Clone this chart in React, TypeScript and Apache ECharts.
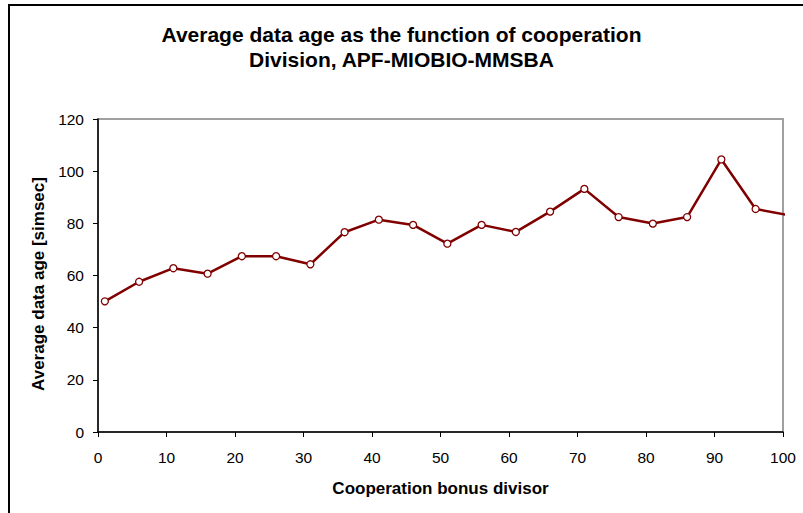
import React, { useEffect, useRef } from "react";
import * as echarts from "echarts";

// Cooperation bonus divisor values (x) and the measured average data age (y)
const divisors = [1, 6, 11, 16, 21, 26, 31, 36, 41, 46, 51, 56, 61, 66, 71, 76, 81, 86, 91, 96, 101];
const dataAge = [50.1, 57.6, 62.8, 60.7, 67.4, 67.4, 64.3, 76.6, 81.4, 79.4, 72.2, 79.4, 76.7, 84.5, 93.2, 82.4, 79.9, 82.4, 104.5, 85.5, 83.0];

const titleLines = ["Average data age as the function of cooperation", "Division, APF-MIOBIO-MMSBA"];
const xTitle = "Cooperation bonus divisor";
const yTitle = "Average data age [simsec]";

const FONT = "'Liberation Sans', Arial, sans-serif";

export default function App() {
  const ref = useRef<HTMLDivElement>(null);

  useEffect(() => {
    if (!ref.current) return;
    const chart = echarts.init(ref.current, undefined, { renderer: "svg" });
    const points = divisors.map((d, i) => [d, dataAge[i]]);
    chart.setOption({
      animation: false,
      backgroundColor: "#ffffff",
      title: {
        text: titleLines.join("\n"),
        left: "center",
        top: 17,
        textStyle: {
          fontFamily: FONT,
          fontSize: 21,
          fontWeight: "bold",
          color: "#000",
          lineHeight: 25,
        },
      },
      graphic: [
        {
          type: "rect",
          shape: { x: 9, y: 5, width: 820, height: 540 },
          style: { fill: "none", stroke: "#000", lineWidth: 2 },
          silent: true,
          z: -1,
        },
        {
          type: "text",
          x: 38,
          y: 284,
          rotation: Math.PI / 2,
          style: {
            text: yTitle,
            fontFamily: FONT,
            fontSize: 17,
            fontWeight: "bold",
            fill: "#000",
            align: "center",
            verticalAlign: "middle",
          },
          silent: true,
        },
      ],
      grid: {
        left: 98,
        right: 20,
        top: 119,
        bottom: 81,
        show: true,
        borderColor: "#a0a0a0",
        borderWidth: 2,
        backgroundColor: "transparent",
      },
      xAxis: {
        type: "value",
        min: 0,
        max: 100,
        interval: 10,
        name: xTitle,
        nameLocation: "middle",
        nameGap: 48,
        nameTextStyle: { fontFamily: FONT, fontSize: 17, fontWeight: "bold", color: "#000" },
        axisLine: { show: true, lineStyle: { color: "#000", width: 1.5 } },
        axisTick: { show: true, length: 5, lineStyle: { color: "#000" } },
        axisLabel: { fontFamily: FONT, fontSize: 15.5, color: "#000", margin: 17 },
        splitLine: { show: false },
      },
      yAxis: {
        type: "value",
        min: 0,
        max: 120,
        interval: 20,
        axisLine: { show: true, lineStyle: { color: "#000", width: 1.5 } },
        axisTick: { show: true, length: 5, lineStyle: { color: "#000" } },
        axisLabel: { fontFamily: FONT, fontSize: 15.5, color: "#000", margin: 14 },
        splitLine: { show: false },
      },
      series: [
        {
          type: "line",
          data: points,
          clip: true,
          lineStyle: { color: "#800000", width: 2.5 },
          itemStyle: { color: "#ffffff", borderColor: "#800000", borderWidth: 1.3 },
          symbol: "circle",
          symbolSize: 7,
          showSymbol: true,
        },
      ],
    });
    return () => chart.dispose();
  }, []);

  return (
    <div
      ref={ref}
      style={{ position: "fixed", left: 0, top: 0, width: 803, height: 513, background: "#fff" }}
    />
  );
}
